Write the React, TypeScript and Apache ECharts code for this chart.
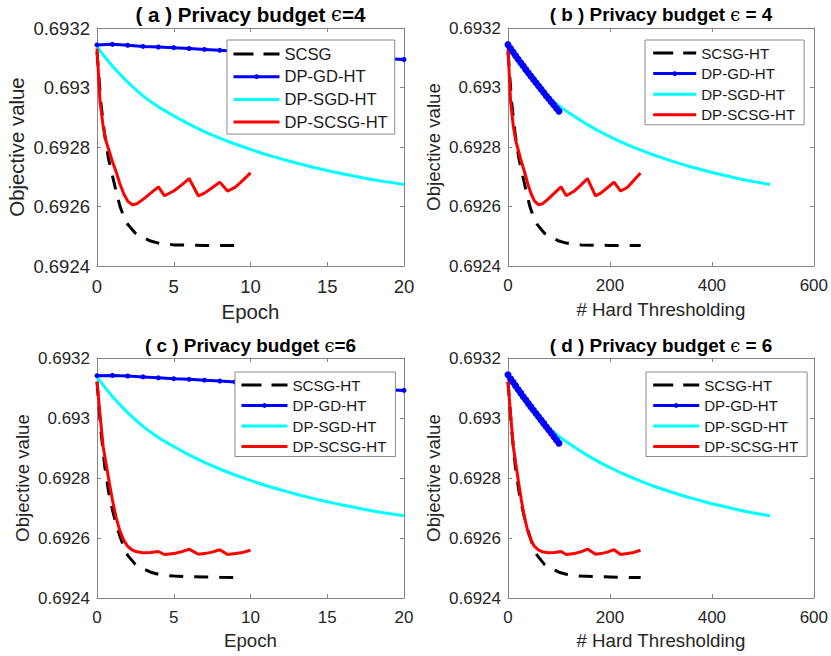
import React, { useEffect, useRef } from 'react';
import * as echarts from 'echarts';

// ---------- data ----------
const epochX = [0, 1, 2, 3, 4, 5, 6, 7, 8, 9, 10, 11, 12, 13, 14, 15, 16, 17, 18, 19, 20];
const sgdHTX = [0, 25.7, 51.4, 77.1, 102.8, 128.5, 154.2, 179.9, 205.6, 231.3, 257, 282.7, 308.4, 334.1, 359.8, 385.5, 411.2, 436.9, 462.6, 488.3, 514];
const sgdVals = [0.693136, 0.693072, 0.693018, 0.692972, 0.692935, 0.692905, 0.692877, 0.692852, 0.69283, 0.69281, 0.692792, 0.692775, 0.69276, 0.692746, 0.692733, 0.692721, 0.69271, 0.6927, 0.69269, 0.692682, 0.692674];

const gdEpochEps4 = [0.693143, 0.693145, 0.693142, 0.693138, 0.693136, 0.693134, 0.693131, 0.693128, 0.693125, 0.693122, 0.69312, 0.693117, 0.693114, 0.693112, 0.693109, 0.693107, 0.693104, 0.693102, 0.693099, 0.693097, 0.693094];
const gdEpochEps6 = [0.693141, 0.693142, 0.69314, 0.693137, 0.693134, 0.693131, 0.693129, 0.693126, 0.693123, 0.69312, 0.693117, 0.693115, 0.693112, 0.693109, 0.693107, 0.693104, 0.693101, 0.693099, 0.693096, 0.693094, 0.693092];
const gdHTX = [0, 5, 10, 15, 20, 25, 30, 35, 40, 45, 50, 55, 60, 65, 70, 75, 80, 85, 90, 95, 100];
const gdHTEps4 = [0.693144, 0.693131, 0.693119, 0.693107, 0.693095, 0.693083, 0.693072, 0.69306, 0.693049, 0.693038, 0.693027, 0.693016, 0.693005, 0.692994, 0.692983, 0.692972, 0.692962, 0.692951, 0.692941, 0.69293, 0.69292];
const gdHTEps6 = [0.693144, 0.693131, 0.693119, 0.693107, 0.693095, 0.693083, 0.693071, 0.69306, 0.693048, 0.693037, 0.693026, 0.693015, 0.693004, 0.692993, 0.692982, 0.692971, 0.69296, 0.692949, 0.692938, 0.692927, 0.692916];

const dpScsgEpochX = [0, 0.2, 0.4, 0.6, 0.8, 1, 1.25, 1.5, 1.75, 2, 2.3, 2.6, 3, 3.5, 4, 4.4, 5, 5.5, 6, 6.6, 7, 7.5, 8, 8.5, 9, 9.5, 10];
const dpScsgHTX = [0, 5.2, 10.4, 15.6, 20.8, 26, 32.5, 39, 45.5, 52, 59.8, 67.6, 78, 91, 104, 114.4, 130, 143, 156, 171.6, 182, 195, 208, 221, 234, 247, 260];
const dpScsgEps4 = [0.693131, 0.69295, 0.69287, 0.692818, 0.692785, 0.692752, 0.692716, 0.692675, 0.692642, 0.692618, 0.692606, 0.692609, 0.692624, 0.692645, 0.692666, 0.692636, 0.692652, 0.692672, 0.692694, 0.692636, 0.692645, 0.692663, 0.692682, 0.692652, 0.692664, 0.692688, 0.692713];
const dpScsgEps6 = [0.693122, 0.69301, 0.692905, 0.692845, 0.692785, 0.692728, 0.692667, 0.692622, 0.692592, 0.692572, 0.69256, 0.692554, 0.692551, 0.692552, 0.692555, 0.692545, 0.692548, 0.692554, 0.692563, 0.692546, 0.692548, 0.692553, 0.692561, 0.692545, 0.692548, 0.692552, 0.692559];

const scsgEpochX = [0, 0.25, 0.5, 0.75, 1, 1.25, 1.5, 1.75, 2, 2.5, 3, 3.5, 4, 4.5, 5, 6, 7, 8, 9.1];
const scsgHTX = [0, 7.2, 14.3, 21.5, 28.6, 35.8, 42.9, 50, 57.2, 71.5, 85.8, 100, 114.4, 128.7, 143, 171.6, 200.2, 228.8, 260.3];
const scsgEps4 = [0.69312, 0.69295, 0.69284, 0.69276, 0.692705, 0.69265, 0.6926, 0.692565, 0.69254, 0.69251, 0.692495, 0.692484, 0.692477, 0.692473, 0.692471, 0.69247, 0.692469, 0.692469, 0.692469];
const scsgEps6 = [0.69312, 0.69296, 0.69284, 0.692755, 0.692695, 0.692645, 0.692605, 0.69257, 0.692542, 0.692512, 0.692498, 0.692486, 0.692479, 0.692475, 0.692473, 0.692471, 0.69247, 0.692469, 0.692468];

const yMin = 0.6924;
const yMax = 0.6932;
const yStep = 0.0002;

const namesA = ['SCSG', 'DP-GD-HT', 'DP-SGD-HT', 'DP-SCSG-HT'];
const namesB = ['SCSG-HT', 'DP-GD-HT', 'DP-SGD-HT', 'DP-SCSG-HT'];

const FONT = '"Liberation Sans", Arial, Helvetica, sans-serif';
const AXIS_COLOR = '#858585';
const TEXT_COLOR = '#262626';

const zip = (xs: number[], ys: number[]) => xs.map((x, i) => [x, ys[i]]);

type Panel = {
  grid: { left: number; top: number; width: number; height: number };
  xMax: number; xInterval: number; xName: string;
  tick: number; nameSize: number; nameGapX: number; nameGapY: number; labelMarginX: number;
  title: string[]; titleX: number; titleY: number; titleSize: number;
  legend: { left: number; top: number; size: number; itemWidth: number; lineHeight: number; itemGap: number; padding: number[] };
  names: string[]; gdSize: number;
  scsg: number[][]; gd: number[][]; sgd: number[][]; dp: number[][];
};

const panels: Panel[] = [
  {
    grid: { left: 97, top: 28, width: 307, height: 238 },
    xMax: 20, xInterval: 5, xName: 'Epoch',
    tick: 18.5, nameSize: 20.4, nameGapX: 36, nameGapY: 70, labelMarginX: 11,
    title: ['( a ) Privacy budget ', '=4'], titleX: 250.5, titleY: 14, titleSize: 20.6,
    legend: { left: 227, top: 40, size: 16.6, itemWidth: 46, lineHeight: 20, itemGap: 2.7, padding: [4, 7, 2, 5] },
    names: namesA, gdSize: 5,
    scsg: zip(scsgEpochX, scsgEps4), gd: zip(epochX, gdEpochEps4), sgd: zip(epochX, sgdVals), dp: zip(dpScsgEpochX, dpScsgEps4),
  },
  {
    grid: { left: 508, top: 28, width: 308, height: 238 },
    xMax: 600, xInterval: 200, xName: '# Hard Thresholding',
    tick: 17, nameSize: 18.7, nameGapX: 34, nameGapY: 65, labelMarginX: 11,
    title: ['( b ) Privacy budget ', ' = 4'], titleX: 661, titleY: 14, titleSize: 18.9,
    legend: { left: 645, top: 40, size: 15.1, itemWidth: 43, lineHeight: 18, itemGap: 2.6, padding: [4, 9, 1, 6.7] },
    names: namesB, gdSize: 7,
    scsg: zip(scsgHTX, scsgEps4), gd: zip(gdHTX, gdHTEps4), sgd: zip(sgdHTX, sgdVals), dp: zip(dpScsgHTX, dpScsgEps4),
  },
  {
    grid: { left: 97, top: 358, width: 307, height: 240 },
    xMax: 20, xInterval: 5, xName: 'Epoch',
    tick: 17, nameSize: 18.7, nameGapX: 33, nameGapY: 65.5, labelMarginX: 11,
    title: ['( c ) Privacy budget ', '=6'], titleX: 250.5, titleY: 345.5, titleSize: 18.9,
    legend: { left: 235, top: 372, size: 15.1, itemWidth: 46, lineHeight: 18, itemGap: 2.5, padding: [4, 9, 1, 5] },
    names: namesB, gdSize: 5,
    scsg: zip(scsgEpochX, scsgEps6), gd: zip(epochX, gdEpochEps6), sgd: zip(epochX, sgdVals), dp: zip(dpScsgEpochX, dpScsgEps6),
  },
  {
    grid: { left: 508, top: 358, width: 308, height: 240 },
    xMax: 600, xInterval: 200, xName: '# Hard Thresholding',
    tick: 17, nameSize: 18.7, nameGapX: 33, nameGapY: 65, labelMarginX: 11,
    title: ['( d ) Privacy budget ', ' = 6'], titleX: 661, titleY: 345, titleSize: 18.9,
    legend: { left: 646, top: 372, size: 15.1, itemWidth: 46, lineHeight: 18, itemGap: 2.5, padding: [4, 9, 1, 5.7] },
    names: namesB, gdSize: 7,
    scsg: zip(scsgHTX, scsgEps6), gd: zip(gdHTX, gdHTEps6), sgd: zip(sgdHTX, sgdVals), dp: zip(dpScsgHTX, dpScsgEps6),
  },
];

const yFmt = (v: number) => String(parseFloat(v.toFixed(4)));

function buildOption() {
  const grid: any[] = [];
  const xAxis: any[] = [];
  const yAxis: any[] = [];
  const series: any[] = [];
  const legend: any[] = [];
  const graphic: any[] = [];

  panels.forEach((p, i) => {
    grid.push({ ...p.grid, show: false, containLabel: false });
    const axLine = { show: true, onZero: false, lineStyle: { color: AXIS_COLOR, width: 1 } };
    const axTick = { show: true, inside: true, length: 4, lineStyle: { color: AXIS_COLOR, width: 1 } };
    xAxis.push({
      gridIndex: i, type: 'value', position: 'bottom', min: 0, max: p.xMax, interval: p.xInterval,
      axisLine: axLine, axisTick: axTick, splitLine: { show: false },
      axisLabel: { fontSize: p.tick, color: TEXT_COLOR, fontFamily: FONT, margin: p.labelMarginX },
      name: p.xName, nameLocation: 'middle', nameGap: p.nameGapX,
      nameTextStyle: { fontSize: p.nameSize, color: TEXT_COLOR, fontFamily: FONT },
    });
    xAxis.push({
      gridIndex: i, type: 'value', position: 'top', min: 0, max: p.xMax, interval: p.xInterval,
      axisLine: axLine, axisTick: axTick, splitLine: { show: false }, axisLabel: { show: false },
    });
    yAxis.push({
      gridIndex: i, type: 'value', position: 'left', min: yMin, max: yMax, interval: yStep,
      axisLine: axLine, axisTick: axTick, splitLine: { show: false },
      axisLabel: { fontSize: p.tick, color: TEXT_COLOR, fontFamily: FONT, margin: 7, formatter: yFmt },
      name: 'Objective value', nameLocation: 'middle', nameGap: p.nameGapY,
      nameTextStyle: { fontSize: p.nameSize, color: TEXT_COLOR, fontFamily: FONT },
    });
    yAxis.push({
      gridIndex: i, type: 'value', position: 'right', min: yMin, max: yMax, interval: yStep,
      axisLine: axLine, axisTick: axTick, splitLine: { show: false }, axisLabel: { show: false },
    });

    const base = { type: 'line', xAxisIndex: 2 * i, yAxisIndex: 2 * i, silent: true, z: 2 };
    series.push({
      ...base, name: p.names[0], data: p.scsg, symbol: 'none',
      lineStyle: { color: '#000000', width: 3, type: [14, 11] }, itemStyle: { color: '#000000' },
    });
    series.push({
      ...base, name: p.names[1], data: p.gd, symbol: 'circle', symbolSize: p.gdSize, showSymbol: true,
      lineStyle: { color: '#0000ff', width: 3 }, itemStyle: { color: '#0000ff' },
    });
    series.push({
      ...base, name: p.names[2], data: p.sgd, symbol: 'none', smooth: 0.3,
      lineStyle: { color: '#00ffff', width: 3 }, itemStyle: { color: '#00ffff' },
    });
    series.push({
      ...base, name: p.names[3], data: p.dp, symbol: 'none',
      lineStyle: { color: '#ff0000', width: 3 }, itemStyle: { color: '#ff0000' },
    });

    const L = p.legend;
    legend.push({
      data: [
        { name: p.names[0], itemStyle: { opacity: 0 }, lineStyle: { type: [20, 10], width: 3, color: '#000000' } },
        { name: p.names[1], lineStyle: { width: 3, color: '#0000ff' } },
        { name: p.names[2], itemStyle: { opacity: 0 }, lineStyle: { width: 3, color: '#00ffff' } },
        { name: p.names[3], itemStyle: { opacity: 0 }, lineStyle: { width: 3, color: '#ff0000' } },
      ],
      left: L.left, top: L.top, orient: 'vertical', selectedMode: false,
      itemWidth: L.itemWidth, itemHeight: 6, itemGap: L.itemGap, padding: L.padding,
      backgroundColor: '#ffffff', borderColor: '#8a8a8a', borderWidth: 1, borderRadius: 0,
      textStyle: { fontSize: L.size, color: '#1a1a1a', fontFamily: FONT, lineHeight: L.lineHeight },
      z: 10,
    });

    graphic.push({
      type: 'text', x: p.titleX, y: p.titleY, z: 20,
      style: {
        text: `{b|${p.title[0]}}{e|ϵ}{b|${p.title[1]}}`,
        align: 'center', verticalAlign: 'middle',
        rich: {
          b: { fontSize: p.titleSize, fontWeight: 'bold', fontFamily: FONT, fill: '#000000' },
          e: { fontSize: p.titleSize * 0.95, fontWeight: 'normal', fontFamily: '"DejaVu Serif", serif', fill: '#000000' },
        },
      },
    });
  });

  return { animation: false, backgroundColor: '#ffffff', grid, xAxis, yAxis, series, legend, graphic };
}

export default function App() {
  const ref = useRef<HTMLDivElement>(null);
  useEffect(() => {
    if (!ref.current) return;
    const chart = echarts.init(ref.current, undefined, { renderer: 'svg' });
    chart.setOption(buildOption() as any);
    return () => chart.dispose();
  }, []);
  return <div ref={ref} style={{ position: 'fixed', left: 0, top: 0, width: 831, height: 656, background: '#fff' }} />;
}
